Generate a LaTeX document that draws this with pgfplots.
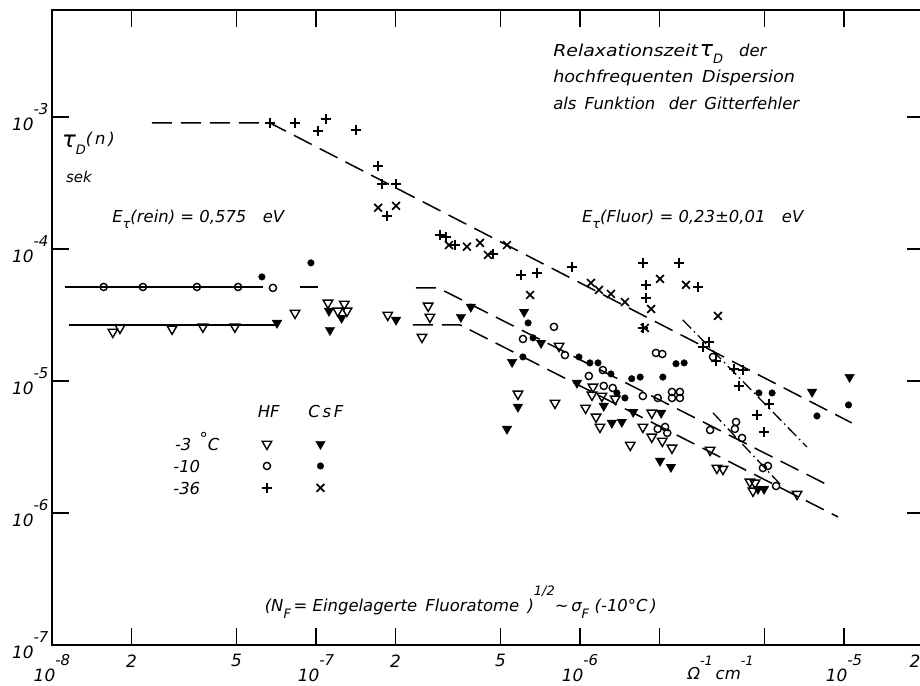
\documentclass[border=0pt]{standalone}
\usepackage{fontspec}
\setmainfont{DejaVu Sans}
\usepackage{pgfplots}
\pgfplotsset{compat=1.18}

\newcommand\ten[1]{10\raisebox{0.95em}{\fontsize{15}{15}\selectfont #1}}
\newcommand\sub[1]{\raisebox{-0.4em}{\fontsize{13}{13}\selectfont #1}}

\pgfplotsset{
  hfthree/.style={only marks, mark=triangle, mark size=5.5bp,
    mark options={rotate=180, line width=1.4bp, fill=white}},
  csthree/.style={only marks, mark=triangle*, mark size=5.5bp,
    mark options={rotate=180, fill=black}},
  hften/.style={only marks, mark=o, mark size=3.6bp,
    mark options={line width=1.4bp, fill=white}},
  csten/.style={only marks, mark=*, mark size=3.3bp, mark options={fill=black}},
  hflow/.style={only marks, mark=+, mark size=5.2bp, mark options={line width=1.6bp}},
  cslow/.style={only marks, mark=x, mark size=5.5bp, mark options={line width=1.7bp}},
  fit/.style={black, line width=1.5bp, dash pattern=on 20bp off 9bp},
  fitdd/.style={black, line width=1.3bp, dash pattern=on 12bp off 4bp on 1.5bp off 4bp},
}

\begin{document}
\begin{tikzpicture}
\path[use as bounding box] (-52bp,-41bp) rectangle (868bp,645bp);
\begin{loglogaxis}[
  at={(0,0)}, anchor=south west,
  scale only axis, width=871.5bp, height=635bp,
  xmin=1e-8, xmax=2e-5, ymin=1e-7, ymax=6.45e-3,
  axis line style={line width=2.4bp},
  tick style={line width=1.6bp, black},
  major tick length=17bp,
  tick align=inside,
  xminorticks=false, yminorticks=false,
  xtick={1e-8,2e-8,5e-8,1e-7,2e-7,5e-7,1e-6,2e-6,5e-6,1e-5,2e-5},
  xticklabels={\ten{-8},2,5,\ten{-7},2,5,\ten{-6},{},{},\ten{-5},{\hbox to 0pt{\hss 2\hspace{3bp}}}},
  ytick={1e-7,1e-6,1e-5,1e-4,1e-3},
  yticklabels={\ten{-7},\ten{-6},\ten{-5},\ten{-4},\ten{-3}},
  ticklabel style={font=\fontsize{17}{18}\selectfont\itshape},
  xticklabel style={yshift=-6bp},
  clip=false,
]
% fit lines
\addplot[fit] coordinates {(2.39e-8,9.0e-4) (6.69e-8,9.0e-4) (1.07e-5,4.81e-6)};
\addplot[black, line width=1.5bp] coordinates {(1.12e-8,5.15e-5) (6.3e-8,5.15e-5)};
\addplot[black, line width=1.5bp] coordinates {(8.7e-8,5.15e-5) (1.02e-7,5.15e-5)};
\addplot[fit] coordinates {(2.39e-7,5.07e-5) (2.9e-7,5.07e-5) (9.0e-6,1.57e-6)};
\addplot[black, line width=1.5bp] coordinates {(1.16e-8,2.66e-5) (7.12e-8,2.66e-5)};
\addplot[fit] coordinates {(2.33e-7,2.66e-5) (3.51e-7,2.66e-5) (9.49e-6,9.33e-7)};
\addplot[fitdd] coordinates {(2.45e-6,2.9e-5) (7.24e-6,3.16e-6)};
\addplot[fitdd] coordinates {(3.19e-6,5.73e-6) (5.87e-6,1.57e-6)};

% HF -3 C
\addplot[hfthree] coordinates {
(1.7e-8,2.35e-5) (1.81e-8,2.52e-5) (2.85e-8,2.48e-5) (3.73e-8,2.57e-5) (4.93e-8,2.57e-5)
(8.33e-8,3.27e-5) (1.11e-7,3.9e-5) (1.28e-7,3.83e-5) (1.21e-7,3.39e-5) (1.31e-7,3.39e-5)
(1.87e-7,3.16e-5) (2.66e-7,3.7e-5) (2.7e-7,3.05e-5) (2.52e-7,2.15e-5) (5.82e-7,7.98e-6)
(8.04e-7,6.81e-6) (8.33e-7,1.84e-5) (1.12e-6,9.01e-6) (1.11e-6,7.84e-6) (1.21e-6,7.69e-6)
(1.36e-6,7.31e-6) (1.05e-6,6.24e-6) (1.15e-6,5.34e-6) (1.19e-6,4.48e-6) (1.55e-6,3.27e-6)
(1.87e-6,5.73e-6) (1.73e-6,4.48e-6) (1.87e-6,3.77e-6) (2.05e-6,3.51e-6) (2.23e-6,3.11e-6)
(3.11e-6,3.0e-6) (3.3e-6,2.19e-6) (3.48e-6,2.15e-6) (4.4e-6,1.72e-6) (4.6e-6,1.69e-6)
(4.52e-6,1.47e-6) (6.64e-6,1.39e-6) (6.52e-8,3.33e-6)};
% CsF -3 C
\addplot[csthree] coordinates {
(7.12e-8,2.75e-5) (1.12e-7,3.39e-5) (1.25e-7,3.0e-5) (1.13e-7,2.43e-5) (2.01e-7,2.9e-5)
(3.54e-7,3.05e-5) (3.86e-7,3.64e-5) (6.14e-7,3.33e-5) (7.12e-7,1.94e-5) (5.53e-7,1.39e-5)
(5.82e-7,6.36e-6) (5.29e-7,4.33e-6) (9.74e-7,9.66e-6) (1.23e-6,6.47e-6) (1.59e-6,5.82e-6)
(1.32e-6,4.81e-6) (1.44e-6,4.89e-6) (2.03e-6,5.73e-6) (2.01e-6,2.48e-6) (2.21e-6,2.23e-6)
(4.72e-6,1.52e-6) (4.98e-6,1.52e-6) (7.57e-6,8.26e-6) (1.05e-5,1.07e-5) (1.04e-7,3.33e-6)};
% HF -10 C
\addplot[hften] coordinates {
(1.57e-8,5.15e-5) (2.21e-8,5.15e-5) (3.54e-8,5.15e-5) (5.07e-8,5.15e-5) (6.87e-8,5.07e-5)
(6.08e-7,2.08e-5) (7.97e-7,2.57e-5) (8.77e-7,1.57e-5) (1.08e-6,1.09e-5) (1.22e-6,1.21e-5)
(1.23e-6,9.17e-6) (1.33e-6,8.85e-6) (1.73e-6,7.69e-6) (1.97e-6,7.43e-6) (1.94e-6,1.63e-5)
(2.05e-6,1.6e-5) (2.23e-6,8.26e-6) (2.39e-6,8.26e-6) (2.23e-6,7.43e-6) (2.39e-6,7.43e-6)
(1.97e-6,4.33e-6) (2.1e-6,4.48e-6) (2.14e-6,4.04e-6) (3.11e-6,4.25e-6) (3.9e-6,4.89e-6)
(3.86e-6,4.33e-6) (4.11e-6,3.7e-6) (4.93e-6,2.19e-6) (5.15e-6,2.27e-6) (5.53e-6,1.6e-6)
(3.19e-6,1.52e-5) (6.52e-8,2.27e-6)};
% CsF -10 C
\addplot[csten] coordinates {
(6.24e-8,6.14e-5) (9.57e-8,7.84e-5) (6.36e-7,2.75e-5) (6.64e-7,2.12e-5) (6.08e-7,1.52e-5)
(9.91e-7,1.52e-5) (1.09e-6,1.37e-5) (1.17e-6,1.37e-5) (1.31e-6,1.13e-5) (1.38e-6,8.11e-6)
(1.48e-6,7.43e-6) (1.57e-6,1.04e-5) (1.69e-6,1.07e-5) (2.06e-6,1.07e-5) (2.31e-6,1.35e-5)
(2.48e-6,1.37e-5) (4.76e-6,8.11e-6) (5.34e-6,8.11e-6) (7.9e-6,5.43e-6) (1.04e-5,6.58e-6)
(1.04e-7,2.27e-6)};
% HF -36 C
\addplot[hflow] coordinates {
(6.69e-8,9.0e-4) (8.33e-8,9.0e-4) (1.02e-7,7.84e-4) (1.09e-7,9.66e-4) (1.42e-7,7.98e-4)
(1.72e-7,4.25e-4) (1.78e-7,3.11e-4) (2.01e-7,3.11e-4) (1.86e-7,1.78e-4) (2.95e-7,1.28e-4)
(3.11e-7,1.23e-4) (3.36e-7,1.07e-4) (4.68e-7,9.17e-5) (5.98e-7,6.36e-5) (6.87e-7,6.58e-5)
(9.33e-7,7.31e-5) (1.73e-6,7.84e-5) (2.37e-6,7.84e-5) (1.78e-6,5.34e-5) (2.8e-6,5.15e-5)
(1.78e-6,4.25e-5) (1.73e-6,2.52e-5) (2.92e-6,1.81e-5) (3.08e-6,1.97e-5) (3.27e-6,1.42e-5)
(3.83e-6,1.23e-5) (4.14e-6,1.21e-5) (4.0e-6,9.17e-6) (5.2e-6,6.69e-6) (4.68e-6,5.53e-6)
(4.98e-6,4.11e-6) (6.52e-8,1.55e-6)};
% CsF -36 C
\addplot[cslow] coordinates {
(1.72e-7,2.05e-4) (2.01e-7,2.12e-4) (3.19e-7,1.07e-4) (3.73e-7,1.04e-4) (4.18e-7,1.11e-4)
(4.48e-7,9.01e-5) (5.29e-7,1.07e-4) (6.47e-7,4.48e-5) (1.1e-6,5.53e-5) (1.18e-6,4.89e-5)
(1.31e-6,4.56e-5) (1.48e-6,3.96e-5) (2.01e-6,5.93e-5) (2.52e-6,5.34e-5) (1.86e-6,3.51e-5)
(1.76e-6,2.52e-5) (3.33e-6,3.11e-5) (1.04e-7,1.55e-6)};

% texts
\begin{scope}[every node/.style={font=\fontsize{16.5}{20}\selectfont\itshape, inner sep=0pt}]
\node[anchor=base west] at (rel axis cs:0.575,0.926) {\scalebox{1.15}[1]{Relaxationszeit}\hspace{2bp}{\fontsize{22}{22}\selectfont τ}\sub{D}\hspace{16bp}der};
\node[anchor=base west] at (rel axis cs:0.575,0.886) {\scalebox{1.07}[1]{hochfrequenten\enspace Dispersion}};
\node[anchor=base west] at (rel axis cs:0.575,0.843) {als\enspace Funktion\enspace\ der\enspace Gitterfehler};
\node[anchor=base west] at (rel axis cs:0.0115,0.783) {{\fontsize{23}{23}\selectfont τ}\sub{D}\raisebox{0.2em}{(\,n\,)}};
\node[anchor=base west] at (rel axis cs:0.016,0.729) {\fontsize{15}{15}\selectfont sek};
\node[anchor=base west] at (rel axis cs:0.069,0.666) {E\sub{τ}(rein) = 0,575\quad eV};
\node[anchor=base west] at (rel axis cs:0.608,0.666) {E\sub{τ}(Fluor) = 0,23±0,01\quad eV};
\node[anchor=base west] at (rel axis cs:0.236,0.359) {HF};
\node[anchor=base west] at (rel axis cs:0.294,0.359) {C\,s\,F};
\node[anchor=base west] at (rel axis cs:0.141,0.307) {-3\enspace\raisebox{0.35em}{°}C};
\node[anchor=base west] at (rel axis cs:0.139,0.272) {-10};
\node[anchor=base west] at (rel axis cs:0.139,0.237) {-36};
\node[anchor=base west] at (rel axis cs:0.244,0.052) {(N\sub{F}\,= Eingelagerte\enspace Fluoratome\enspace)\raisebox{1.0em}{\fontsize{13}{13}\selectfont 1/2}∼\,σ\sub{F}\,\,(-10°C\,)};
\node[anchor=base west] at (rel axis cs:0.729,-0.055) {Ω\raisebox{0.85em}{\fontsize{13}{13}\selectfont -1}\,cm\raisebox{0.85em}{\fontsize{13}{13}\selectfont -1}};
\end{scope}
\end{loglogaxis}
\end{tikzpicture}
\end{document}
